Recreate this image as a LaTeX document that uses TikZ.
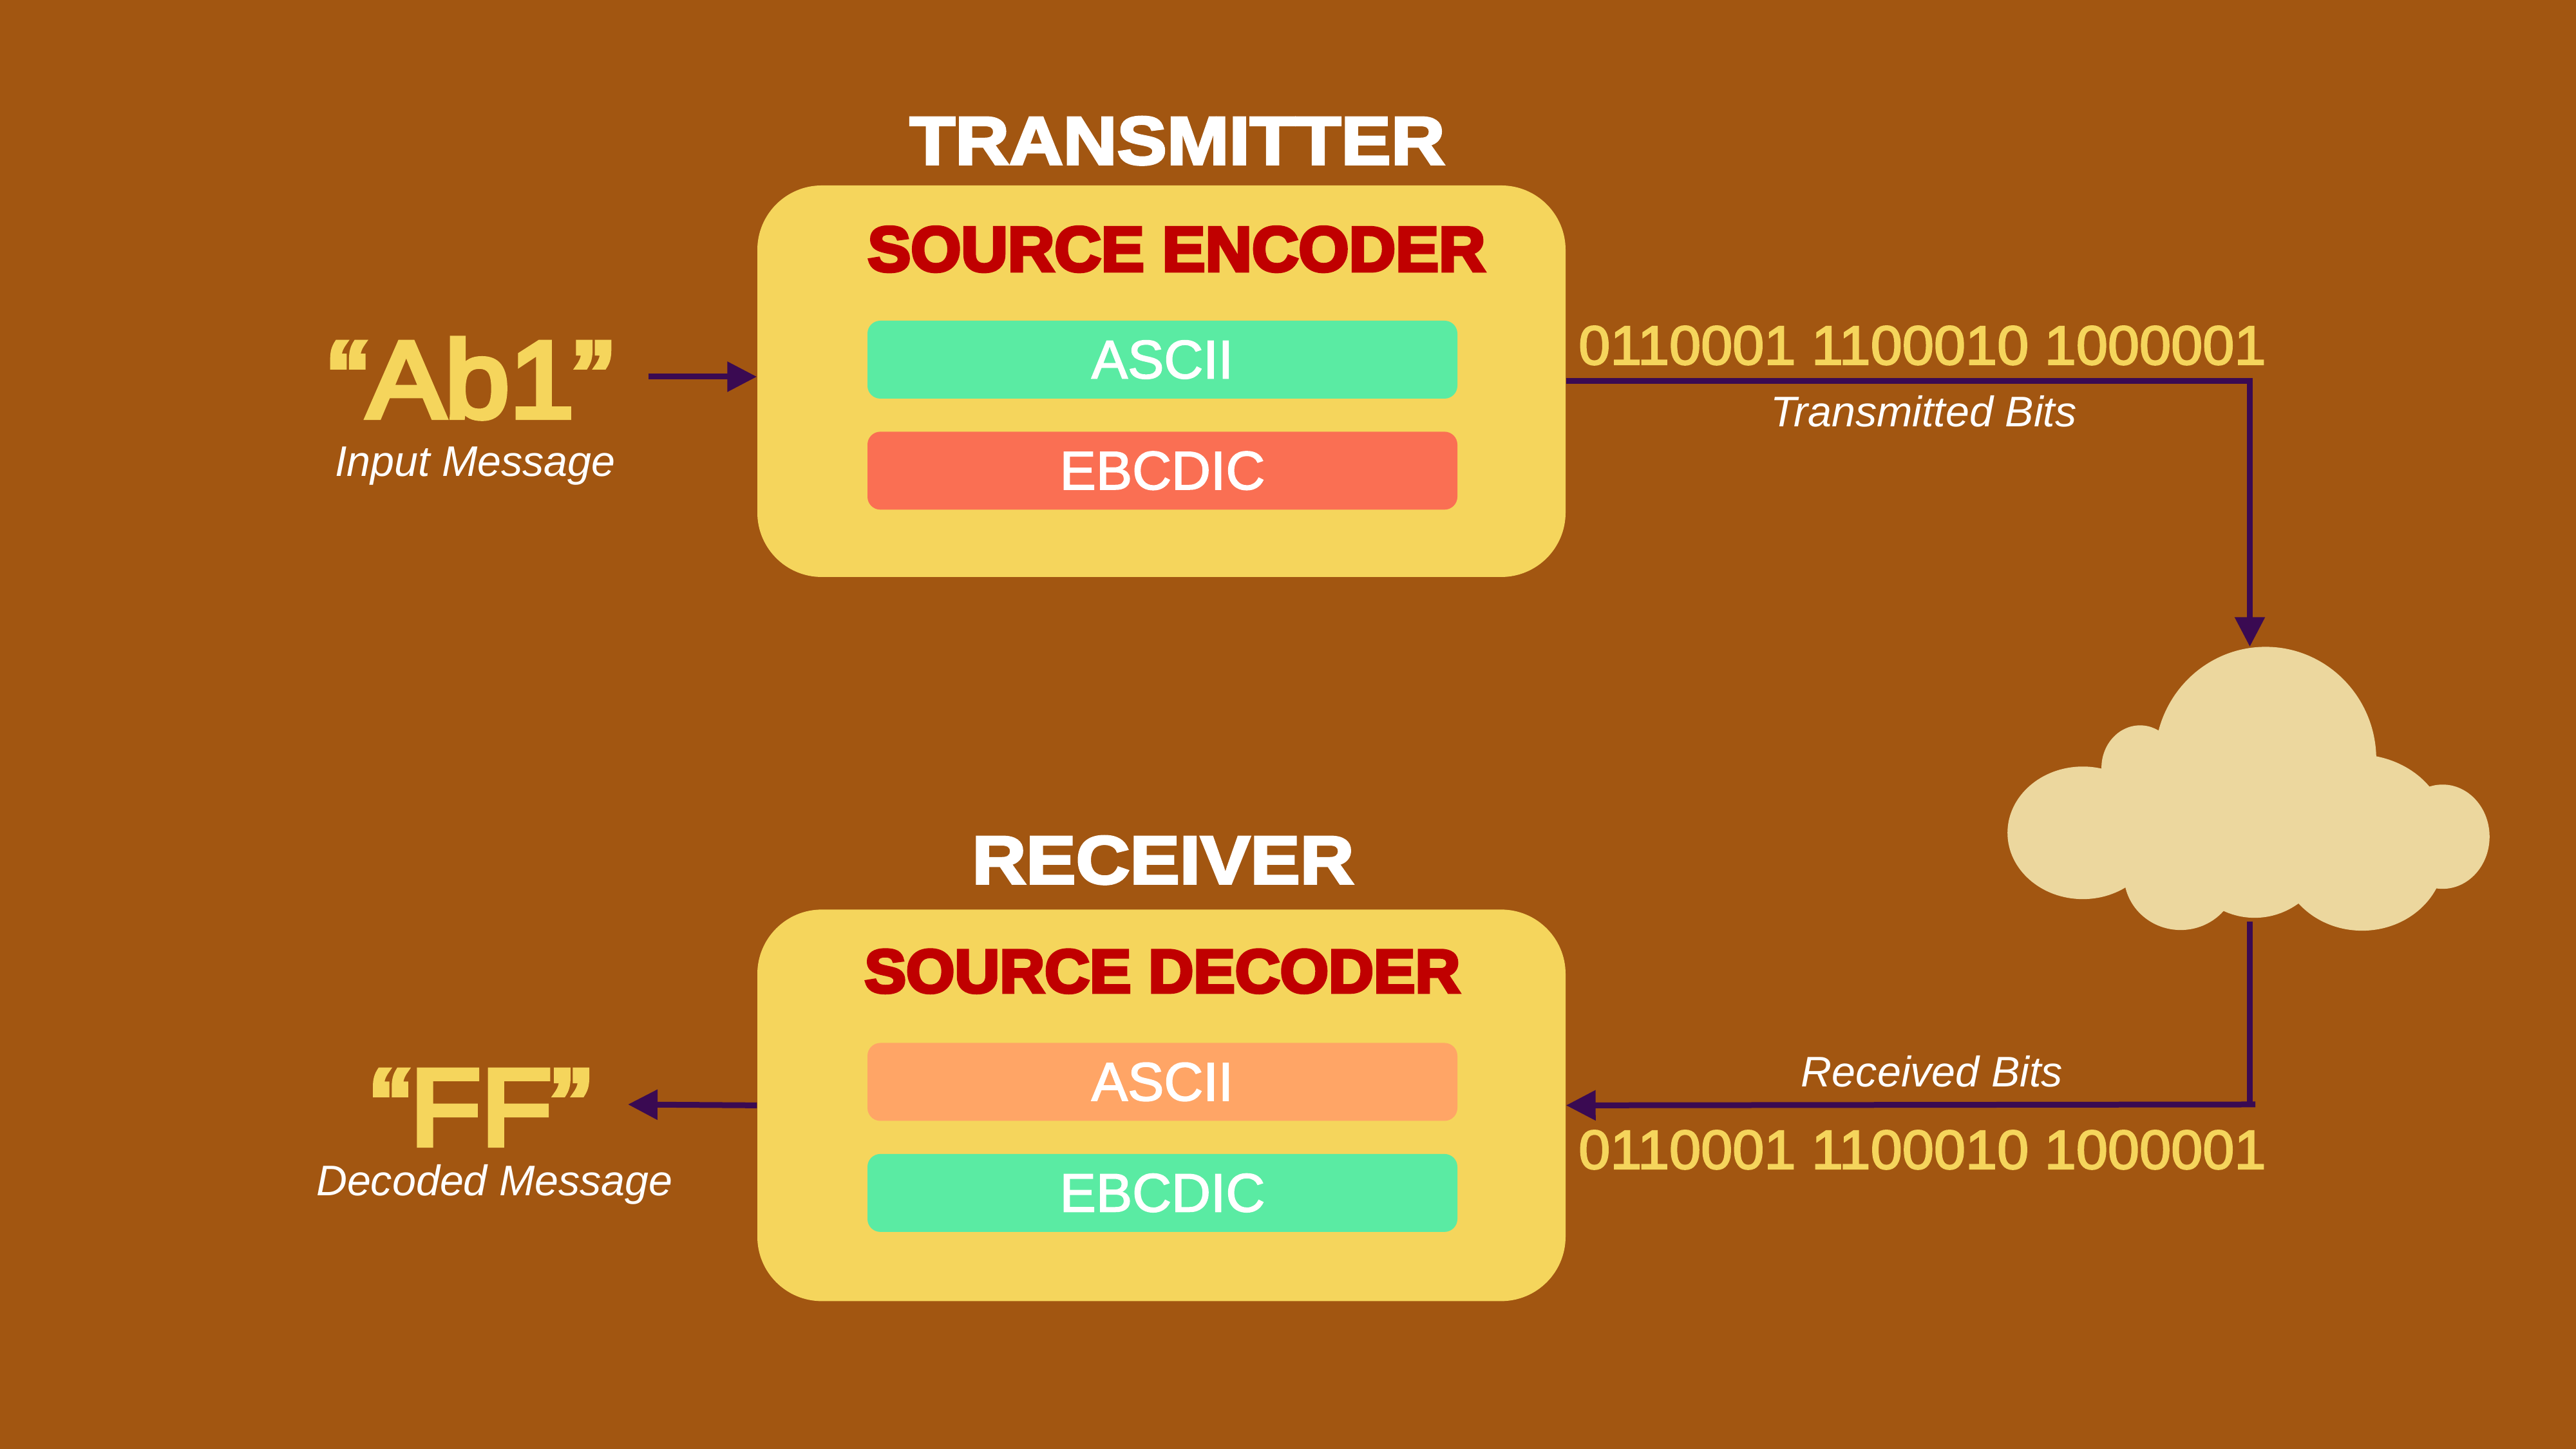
\documentclass[tikz,border=0pt]{standalone}
\usepackage{fontspec}
\setmainfont{Liberation Sans}
\newfontfamily\headfont[UprightFont=* Bold,FakeBold=3.5,FakeStretch=1.1]{Liberation Sans}
\newfontfamily\redfont[UprightFont=* Bold,FakeBold=5,FakeStretch=1.02]{Liberation Sans}
\newfontfamily\softfont[FakeBold=2]{Liberation Sans}
\newfontfamily\bitfont[FakeBold=2.5,FakeStretch=1.03]{Liberation Sans}
\newfontfamily\msgfont[FakeBold=5,FakeStretch=1.07]{Liberation Sans}
\usetikzlibrary{positioning, arrows.meta}
\definecolor{bgbrown}{HTML}{A25611}
\definecolor{boxyellow}{HTML}{F5D55C}
\definecolor{okgreen}{HTML}{5AEBA3}
\definecolor{badred}{HTML}{FA6F53}
\definecolor{softorange}{HTML}{FFA566}
\definecolor{headred}{HTML}{C00000}
\definecolor{wirepurple}{HTML}{3A0A52}
\definecolor{cloudsand}{HTML}{ECD79E}
\tikzset{
>={Triangle[length=4.6mm,width=4.5mm]}, % filled heads, as large as in the picture
wire/.style={draw=wirepurple, line width=0.9mm}, % every connector
coderbox/.style={fill=boxyellow, rounded corners=1cm, minimum width=12.55cm, minimum height=6.08cm, inner sep=0},
codebox/.style={rounded corners=2mm, minimum width=9.16cm, minimum height=1.21cm, inner sep=0, text=white, font=\softfont\fontsize{24}{24}\selectfont},
headtext/.style={anchor=base, inner sep=0, text=white, font=\headfont\fontsize{30}{30}\selectfont},
redtext/.style={anchor=base, inner sep=0, text=headred, font=\redfont\fontsize{#1}{#1}\selectfont},
msgtext/.style={anchor=base, inner sep=0, text=boxyellow, font=\msgfont\fontsize{48}{48}\selectfont},
bittext/.style={anchor=base, inner sep=0, text=boxyellow, font=\bitfont\fontsize{24.4}{24.4}\selectfont},
notetext/.style={anchor=base, inner sep=0, text=white, font=\itshape\fontsize{18.9}{18.9}\selectfont},
}
\begin{document}
\begin{tikzpicture}
    \fill[bgbrown] (0,0) rectangle (40,22.5);
    \useasboundingbox (0,0) rectangle (40,22.5);

    % the two coders
    \node[coderbox] (encoder) at (18.035,16.58) {};
    \node[coderbox, below=5.15cm of encoder] (decoder) {};
    \node[codebox, fill=okgreen] (asciienc) at (18.05,16.915) {ASCII};
    \node[codebox, fill=badred, below=0.5cm of asciienc] (ebcdicenc) {EBCDIC};
    \node[codebox, fill=softorange] (asciidec) at (18.05,5.7) {ASCII};
    \node[codebox, fill=okgreen, below=0.5cm of asciidec] (ebcdicdec) {EBCDIC};

    \node[headtext] (transmitter) at (18.28,19.95) {TRANSMITTER};
    \node[headtext] (receiver) at (18.06,8.78) {RECEIVER};
    \node[redtext=28] (enctitle) at (18.27,18.29) {SOURCE ENCODER};
    \node[redtext=27] (dectitle) at (18.05,7.09) {SOURCE DECODER};

    % messages and bits
    \node[msgtext] (msgin) at (7.31,16.02) {“Ab1”};
    \node[msgtext] (msgout) at (7.47,4.72) {“FF”};
    \node[notetext] (notein) at (7.38,15.10) {Input Message};
    \node[notetext] (noteout) at (7.68,3.93) {Decoded Message};
    \node[bittext] (bitsup) at (29.85,16.84) {0110001 1100010 1000001};
    \node[bittext] (bitsdown) at (29.85,4.35) {0110001 1100010 1000001};
    \node[notetext] (notetx) at (29.87,15.87) {Transmitted Bits};
    \node[notetext] (noterx) at (30.0,5.62) {Received Bits};

    % the cloud, lobe by lobe
    \begin{scope}[shift={(0,22.5)}, x=0.01cm, y=-0.01cm]
        \foreach \cx/\cy/\rx/\ry in {3236/1294/117/103, 3520/1180/172/175, 3325/1193/60/66,
            3388/1360/88/85, 3503/1300/120/126, 3670/1330/128/116, 3660/1290/140/118, 3795/1300/73/81}
            \fill[cloudsand] (\cx,\cy) ellipse [x radius=\rx, y radius=\ry];
        \fill[cloudsand] (3330,1200) rectangle (3700,1380);
    \end{scope}
    \node[minimum width=7.49cm, minimum height=4.41cm, inner sep=0] (cloud) at (34.935,10.245) {};

    \coordinate (inputend) at (10.07,16.65);
    \coordinate (outputend) at (9.75,5.35);
    \coordinate (cloudout) at ([yshift=0.16cm]cloud.south);
    \coordinate (corner) at (35.02,5.35);

    \draw[wire, ->] (inputend) -- (inputend -| encoder.west);
    \draw[wire, ->] (encoder.east) -| (cloud.north);
    \draw[wire] (cloudout) -- (cloudout |- corner);
    \draw[wire, ->] (corner) -- (decoder.east);
    \draw[wire, ->] (decoder.west) -- (outputend);
\end{tikzpicture}
\end{document}
